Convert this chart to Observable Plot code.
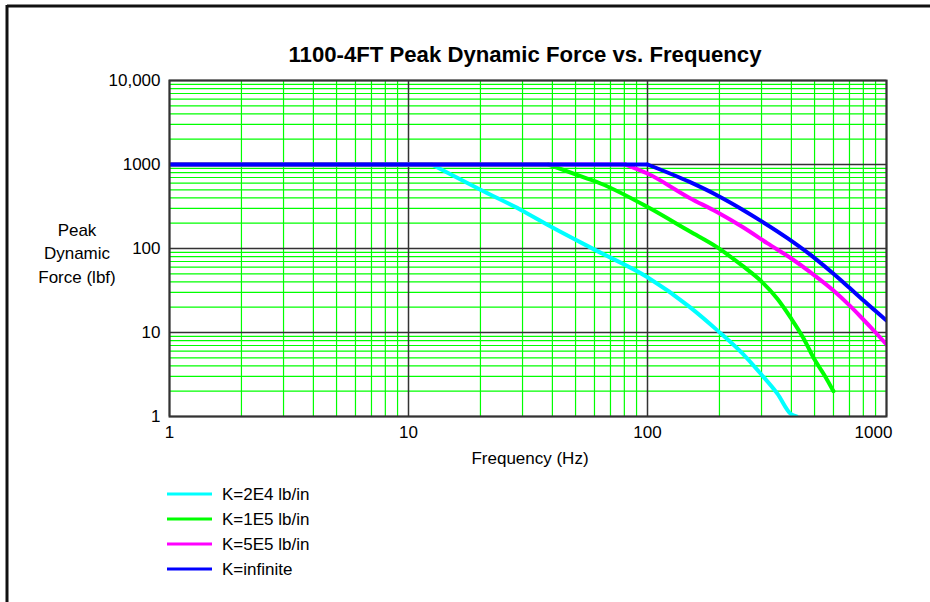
<!DOCTYPE html>
<html>
<head>
<meta charset="utf-8">
<script src="https://cdn.jsdelivr.net/npm/d3@7"></script>
<script src="https://cdn.jsdelivr.net/npm/@observablehq/plot@0.6"></script>
<style>
  html, body { margin: 0; padding: 0; background: #fff; }
  #wrap { position: relative; width: 930px; height: 602px; overflow: hidden; font-family: "Liberation Sans", Arial, sans-serif; }
  #wrap > svg.overlay { position: absolute; left: 0; top: 0; pointer-events: none; }
  #chart { position: absolute; left: 0; top: 0; }
</style>
</head>
<body>
<div id="wrap"><div id="chart"></div></div>
<script>
// ---- data ----
const seriesNames = ["K=2E4 lb/in", "K=1E5 lb/in", "K=5E5 lb/in", "K=infinite"];
const seriesColors = ["#00ffff", "#00ff00", "#ff00ff", "#0000ff"];

const freqK2E4  = [1, 12.5, 20, 29.4, 40.4, 60, 100, 150, 196, 250, 297, 350, 397, 420];
const forceK2E4 = [1000, 1000, 500, 290, 175, 97, 45.5, 20.2, 10.6, 5.6, 3.25, 1.86, 1.08, 1.0];

const freqK1E5  = [1, 38.5, 56, 63.6, 101, 150, 196, 250, 297, 350, 397, 450, 495, 550, 600];
const forceK1E5 = [1000, 1000, 680, 594, 307, 160, 103, 62, 41.6, 25, 15, 8.5, 5.0, 3.1, 2.0];

const freqK5E5  = [1, 81, 100, 150, 196, 250, 318, 400, 481, 600, 700, 778, 900, 1000];
const forceK5E5 = [1000, 1000, 781, 400, 270, 180, 115, 76, 52, 31.6, 21, 15.5, 10, 7.2];

const freqKinf  = [1, 100, 150, 196, 250, 297, 385, 481, 600, 700, 778, 900, 1000];
const forceKinf = [1000, 1000, 620, 428, 290, 215, 133, 84, 50, 34, 26, 18, 13.9];

const xTickValues = [1, 10, 100, 1000];
const xTickLabels = ["1", "10", "100", "1000"];
const yTickValues = [1, 10, 100, 1000, 10000];
const yTickLabels = ["1", "10", "100", "1000", "10,000"];

const titleText = "1100-4FT Peak Dynamic Force vs. Frequency";
const xLabelText = "Frequency (Hz)";
const yLabelLines = ["Peak", "Dynamic", "Force (lbf)"];

// ---- build table: each series split into its flat part and its roll-off part ----
const allFreq = [freqK2E4, freqK1E5, freqK5E5, freqKinf];
const allForce = [forceK2E4, forceK1E5, forceK5E5, forceKinf];
const rows = [];
allFreq.forEach((fs, i) => {
  const ys = allForce[i];
  fs.forEach((f, j) => {
    // break point = index 1 (end of flat plateau); it belongs to both parts
    if (j <= 1) rows.push({series: seriesNames[i], part: seriesNames[i] + "-flat", f, force: ys[j]});
    if (j >= 1) rows.push({series: seriesNames[i], part: seriesNames[i] + "-drop", f, force: ys[j]});
  });
});

// minor grid values (2..9 within each decade)
const xMinor = [], yMinor = [];
for (let d = 1; d < 1000; d *= 10) for (let k = 2; k <= 9; k++) xMinor.push(d * k);
for (let d = 1; d < 10000; d *= 10) for (let k = 2; k <= 9; k++) yMinor.push(d * k);

const FONT = '"Liberation Sans", Arial, sans-serif';
const W = 930, H = 602;

const plot = Plot.plot({
  width: W, height: H,
  marginLeft: 169, marginRight: 44, marginTop: 80, marginBottom: 186,
  style: {fontFamily: FONT, fontSize: "17px", background: "transparent", color: "#000"},
  x: {type: "log", domain: [1, 1000], axis: null},
  y: {type: "log", domain: [1, 10000], axis: null},
  color: {domain: seriesNames, range: seriesColors},
  marks: [
    Plot.ruleX(xMinor, {x: d => d, stroke: "#00ff00", strokeWidth: 1.2}),
    Plot.ruleY(yMinor, {y: d => d, stroke: "#00ff00", strokeWidth: 1.2}),
    Plot.ruleX(xTickValues, {x: d => d, stroke: "#333", strokeWidth: 1.5}),
    Plot.ruleY(yTickValues, {y: d => d, stroke: "#333", strokeWidth: 1.5}),
    Plot.line(rows, {x: "f", y: "force", z: "part", stroke: "series", strokeWidth: 4, curve: "monotone-x", clip: true}),
    Plot.frame({stroke: "#333", strokeWidth: 2}),
    Plot.text(xTickValues.slice(0, 3), {x: d => d, y: () => 1, text: (d, i) => xTickLabels[i], dy: 16, fontSize: 17, fill: "#000"}),
    Plot.text(xTickValues.slice(3), {x: d => d, y: () => 1, text: (d, i) => xTickLabels[3 + i], dy: 16, dx: -13, fontSize: 17, fill: "#000"}),
    Plot.text(yTickValues, {x: () => 1, y: d => d, text: (d, i) => yTickLabels[i], dx: -9, textAnchor: "end", fontSize: 17, fill: "#000"})
  ]
});
document.getElementById("chart").appendChild(plot);

// ---- overlay: border, titles, legend ----
const ns = "http://www.w3.org/2000/svg";
const ov = document.createElementNS(ns, "svg");
ov.setAttribute("class", "overlay");
ov.setAttribute("width", W); ov.setAttribute("height", H);
function el(tag, attrs, text) {
  const e = document.createElementNS(ns, tag);
  for (const k in attrs) e.setAttribute(k, attrs[k]);
  if (text != null) e.textContent = text;
  ov.appendChild(e);
  return e;
}
// window frame lines
el("line", {x1: 7, y1: 6, x2: W, y2: 6, stroke: "#111", "stroke-width": 3});
el("line", {x1: 7, y1: 5, x2: 7, y2: H, stroke: "#111", "stroke-width": 3});

// title
el("text", {x: 525, y: 62, "text-anchor": "middle", "font-family": FONT, "font-weight": "bold", "font-size": 22,
  textLength: 473, lengthAdjust: "spacingAndGlyphs", fill: "#000"}, titleText);

// x label
el("text", {x: 530, y: 464, "text-anchor": "middle", "font-family": FONT, "font-size": 17, fill: "#000"}, xLabelText);

// y label
yLabelLines.forEach((t, i) => {
  el("text", {x: 77, y: 230 + i * 23.5, dy: "0.35em", "text-anchor": "middle", "font-family": FONT, "font-size": 17, fill: "#000"}, t);
});

// legend
seriesNames.forEach((name, i) => {
  const y = 494 + i * 25;
  el("line", {x1: 167, y1: y, x2: 212, y2: y, stroke: seriesColors[i], "stroke-width": 3});
  el("text", {x: 222, y: y, dy: "0.35em", "font-family": FONT, "font-size": 17, fill: "#000"}, name);
});
document.getElementById("wrap").appendChild(ov);
</script>
</body>
</html>
